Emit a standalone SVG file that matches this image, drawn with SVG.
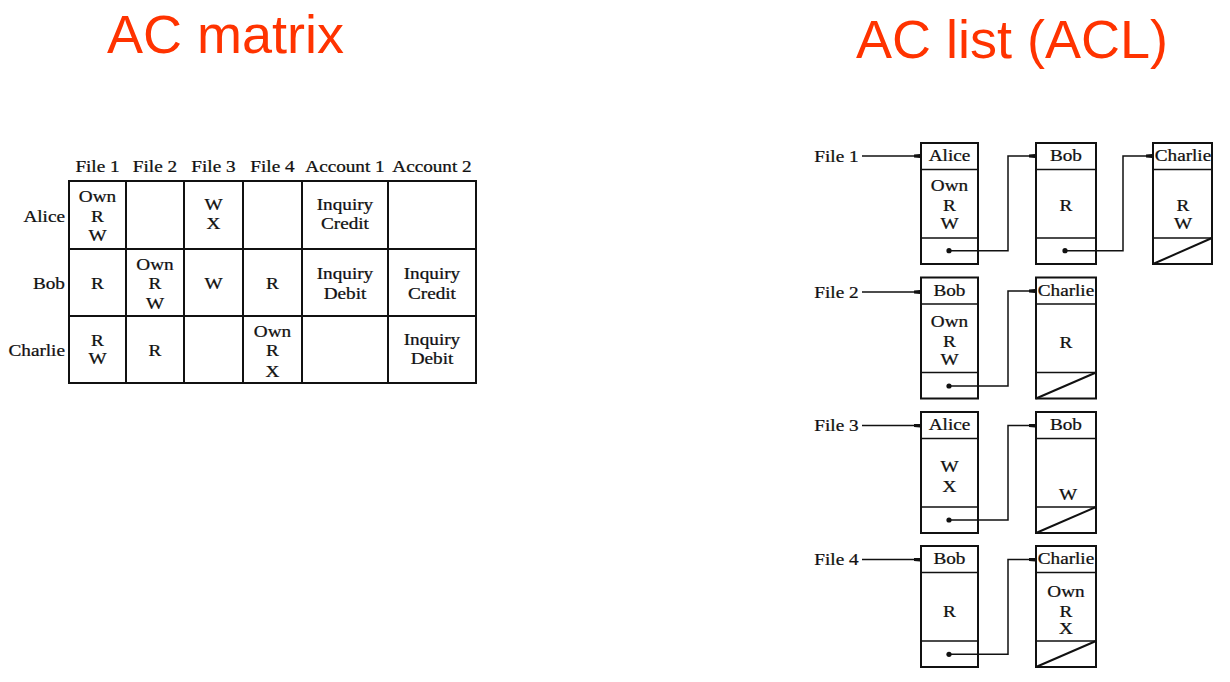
<svg xmlns="http://www.w3.org/2000/svg" width="1230" height="682" viewBox="0 0 1230 682">
<style>
.title{font-family:"Liberation Sans",Arial,sans-serif;font-size:54px;fill:#FF3300}
.t{font-family:"Liberation Serif","Times New Roman",serif;font-size:16px;fill:#111;stroke:#111;stroke-width:0.25;text-anchor:middle;transform-box:fill-box;transform-origin:center;transform:scaleX(1.2)}
.r{font-family:"Liberation Serif","Times New Roman",serif;font-size:16px;fill:#111;stroke:#111;stroke-width:0.25;text-anchor:end;transform-box:fill-box;transform-origin:right;transform:scaleX(1.2)}
.grid{fill:none;stroke:#111;stroke-width:2}
.box{fill:#fff;stroke:#111;stroke-width:2}
.sep{stroke:#111;stroke-width:1.6}
.con{fill:none;stroke:#111;stroke-width:1.5}
.nul{stroke:#111;stroke-width:2}
.dot{fill:#111}
</style>
<defs>
<marker id="ah" viewBox="0 0 6 4" refX="6" refY="2" markerWidth="6" markerHeight="4" markerUnits="userSpaceOnUse" orient="auto">
<path d="M0,0.6 L6,0 L6,4 L0,3.4 Z" fill="#111"/>
</marker>
</defs>

<text class="title" x="107" y="53">AC matrix</text>
<text class="title" x="856" y="58">AC list (ACL)</text>

<g id="matrix">
<rect class="grid" x="69" y="181" width="407" height="202"/>
<path class="grid" d="M126,181V383M184,181V383M243,181V383M302,181V383M388,181V383M69,249H476M69,316H476"/>
<text class="t" x="97.5" y="172.5">File 1</text>
<text class="t" x="155" y="172.5">File 2</text>
<text class="t" x="213.5" y="172.5">File 3</text>
<text class="t" x="272.5" y="172.5">File 4</text>
<text class="t" x="345" y="172.5">Account 1</text>
<text class="t" x="432" y="172.5">Account 2</text>
<text class="r" x="65" y="222">Alice</text>
<text class="r" x="65" y="289">Bob</text>
<text class="r" x="65" y="356.5">Charlie</text>
<text class="t" x="97.5" y="202">Own</text>
<text class="t" x="97.5" y="222">R</text>
<text class="t" x="97.5" y="241.5">W</text>
<text class="t" x="213.5" y="210.5">W</text>
<text class="t" x="213.5" y="229.5">X</text>
<text class="t" x="345" y="210.5">Inquiry</text>
<text class="t" x="345" y="229">Credit</text>
<text class="t" x="97.5" y="289">R</text>
<text class="t" x="155" y="270.5">Own</text>
<text class="t" x="155" y="289">R</text>
<text class="t" x="155" y="309.5">W</text>
<text class="t" x="213.5" y="289">W</text>
<text class="t" x="272.5" y="289">R</text>
<text class="t" x="345" y="279">Inquiry</text>
<text class="t" x="345" y="299">Debit</text>
<text class="t" x="432" y="279">Inquiry</text>
<text class="t" x="432" y="299">Credit</text>
<text class="t" x="97.5" y="346">R</text>
<text class="t" x="97.5" y="364">W</text>
<text class="t" x="155" y="356.5">R</text>
<text class="t" x="272.5" y="337">Own</text>
<text class="t" x="272.5" y="356.5">R</text>
<text class="t" x="272.5" y="377">X</text>
<text class="t" x="432" y="345.5">Inquiry</text>
<text class="t" x="432" y="364">Debit</text>
</g>

<g id="file-labels">
<text class="t" x="836.5" y="162">File 1</text>
<text class="t" x="836.5" y="298">File 2</text>
<text class="t" x="836.5" y="431">File 3</text>
<text class="t" x="836.5" y="565">File 4</text>
</g>

<g id="f1-alice">
<rect class="box" x="921" y="143" width="57" height="121"/>
<path class="sep" d="M921,169.5H978M921,238H978"/>
<text class="t" x="949.5" y="161.5">Alice</text>
<text class="t" x="949.5" y="191.5">Own</text>
<text class="t" x="949.5" y="211.5">R</text>
<text class="t" x="949.5" y="229.5">W</text>
<circle class="dot" cx="949" cy="250.7" r="2.6"/>
</g>
<g id="f1-bob">
<rect class="box" x="1036" y="143" width="60" height="121"/>
<path class="sep" d="M1036,169.5H1096M1036,238H1096"/>
<text class="t" x="1066" y="161.5">Bob</text>
<text class="t" x="1066" y="211.5">R</text>
<circle class="dot" cx="1065" cy="250.7" r="2.6"/>
</g>
<g id="f1-charlie">
<rect class="box" x="1153" y="143" width="59" height="121"/>
<path class="sep" d="M1153,169.5H1212M1153,238H1212"/>
<text class="t" x="1183" y="161.5">Charlie</text>
<text class="t" x="1183" y="211.5">R</text>
<text class="t" x="1183" y="229">W</text>
<line class="nul" x1="1153" y1="264" x2="1212" y2="238"/>
</g>

<g id="f2-bob">
<rect class="box" x="921" y="277.5" width="57" height="121"/>
<path class="sep" d="M921,304H978M921,372.5H978"/>
<text class="t" x="949.5" y="296">Bob</text>
<text class="t" x="949.5" y="327">Own</text>
<text class="t" x="949.5" y="347">R</text>
<text class="t" x="949.5" y="365">W</text>
<circle class="dot" cx="949" cy="386" r="2.6"/>
</g>
<g id="f2-charlie">
<rect class="box" x="1036" y="277.5" width="60" height="121"/>
<path class="sep" d="M1036,304H1096M1036,372.5H1096"/>
<text class="t" x="1066" y="296">Charlie</text>
<text class="t" x="1066" y="348">R</text>
<line class="nul" x1="1036" y1="398.5" x2="1096" y2="372.5"/>
</g>

<g id="f3-alice">
<rect class="box" x="921" y="412" width="57" height="121"/>
<path class="sep" d="M921,438.5H978M921,507H978"/>
<text class="t" x="949.5" y="430.5">Alice</text>
<text class="t" x="949.5" y="472">W</text>
<text class="t" x="949.5" y="492">X</text>
<circle class="dot" cx="949" cy="520" r="2.6"/>
</g>
<g id="f3-bob">
<rect class="box" x="1036" y="412" width="60" height="121"/>
<path class="sep" d="M1036,438.5H1096M1036,507H1096"/>
<text class="t" x="1066" y="430.5">Bob</text>
<text class="t" x="1068" y="500">W</text>
<line class="nul" x1="1036" y1="533" x2="1096" y2="507"/>
</g>

<g id="f4-bob">
<rect class="box" x="921" y="546" width="57" height="121"/>
<path class="sep" d="M921,572.5H978M921,641H978"/>
<text class="t" x="949.5" y="564.5">Bob</text>
<text class="t" x="949.5" y="617">R</text>
<circle class="dot" cx="949" cy="654.3" r="2.6"/>
</g>
<g id="f4-charlie">
<rect class="box" x="1036" y="546" width="60" height="121"/>
<path class="sep" d="M1036,572.5H1096M1036,641H1096"/>
<text class="t" x="1066" y="564.5">Charlie</text>
<text class="t" x="1066" y="597">Own</text>
<text class="t" x="1066" y="617">R</text>
<text class="t" x="1066" y="634">X</text>
<line class="nul" x1="1036" y1="667" x2="1096" y2="641"/>
</g>

<g id="connectors">
<path class="con" d="M862,156H920" marker-end="url(#ah)"/>
<path class="con" d="M949,250.7H1008V156H1035" marker-end="url(#ah)"/>
<path class="con" d="M1065,250.7H1123V156H1152" marker-end="url(#ah)"/>
<path class="con" d="M862,292H920" marker-end="url(#ah)"/>
<path class="con" d="M949,386H1008V291H1035" marker-end="url(#ah)"/>
<path class="con" d="M862,425.5H920" marker-end="url(#ah)"/>
<path class="con" d="M949,520H1008V425.5H1035" marker-end="url(#ah)"/>
<path class="con" d="M862,559.5H920" marker-end="url(#ah)"/>
<path class="con" d="M949,654.3H1008V559.5H1035" marker-end="url(#ah)"/>
</g>
</svg>
